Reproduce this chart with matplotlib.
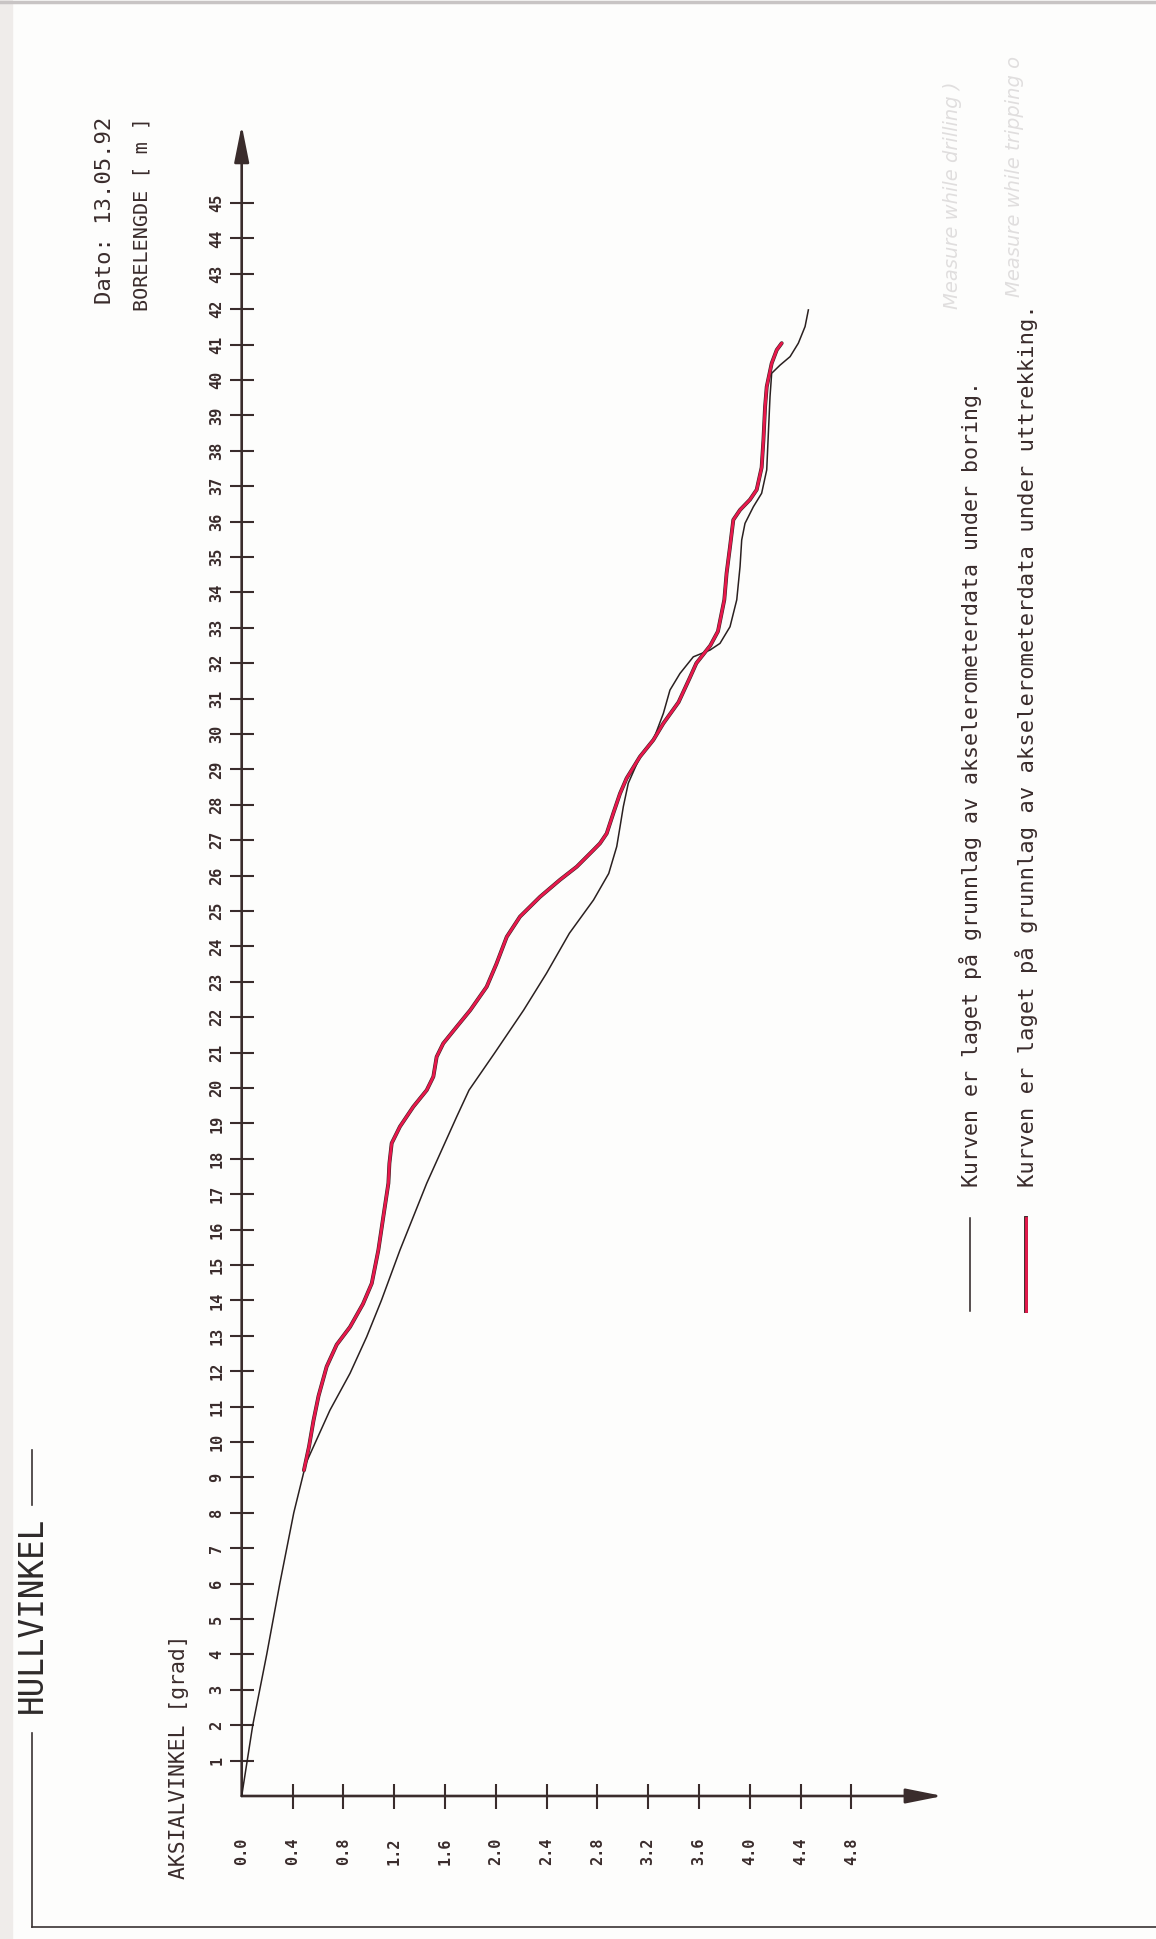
import matplotlib
matplotlib.use("Agg")
import matplotlib.pyplot as plt
from matplotlib.lines import Line2D
from matplotlib.patches import Rectangle

# borelengde [m] og aksialvinkel [grad]
dybde_boring = [0, 2, 4, 6, 8, 9.4, 10.9, 11.94, 12.97, 14.0, 15.42, 17.31, 19.19,
                19.94, 20.98, 22.2, 23.24, 24.37, 25.31, 26.06, 26.82, 27.38, 27.95,
                28.61, 29.36, 29.83, 30.58, 31.24, 31.71, 32.18, 32.37, 32.56, 33.03,
                33.79, 34.73, 35.48, 35.95, 36.42, 36.8, 37.46, 38.5, 39.53, 40.19,
                40.42, 40.66, 41.04, 41.51, 41.98]
vinkel_boring = [0, 0.087, 0.197, 0.30, 0.41, 0.506, 0.695, 0.853, 0.984, 1.10, 1.246,
                 1.457, 1.693, 1.79, 1.99, 2.22, 2.40, 2.58, 2.77, 2.89, 2.953,
                 2.979, 3.005, 3.044, 3.136, 3.241, 3.32, 3.372, 3.451, 3.556, 3.687,
                 3.766, 3.845, 3.898, 3.924, 3.937, 3.963, 4.029, 4.094, 4.134, 4.147,
                 4.16, 4.173, 4.239, 4.318, 4.383, 4.436, 4.462]

dybde_uttrekk = [9.2, 9.87, 10.6, 11.3, 12.13, 12.75, 13.25, 13.9, 14.48, 15.42, 16.36,
                 17.31, 17.87, 18.44, 18.91, 19.47, 19.94, 20.32, 20.88, 21.26, 21.73,
                 22.2, 22.86, 23.5, 24.27, 24.84, 25.4, 25.88, 26.25, 26.72, 26.91,
                 27.19, 27.76, 28.32, 28.75, 29.36, 29.83, 30.3, 30.9, 31.6, 32.0,
                 32.5, 32.9, 33.79, 34.54, 35.29, 35.67, 36.05, 36.33, 36.62, 36.9,
                 37.53, 38.3, 39.24, 39.81, 40.47, 40.85, 41.04]
vinkel_uttrekk = [0.49, 0.53, 0.565, 0.605, 0.669, 0.748, 0.853, 0.955, 1.024, 1.076,
                  1.115, 1.155, 1.163, 1.181, 1.246, 1.351, 1.457, 1.509, 1.535, 1.587,
                  1.693, 1.80, 1.929, 2.005, 2.087, 2.191, 2.349, 2.506, 2.638, 2.769,
                  2.821, 2.874, 2.926, 2.979, 3.031, 3.136, 3.241, 3.32, 3.44, 3.53,
                  3.58, 3.69, 3.75, 3.80, 3.818, 3.845, 3.858, 3.871, 3.924, 4.002,
                  4.055, 4.094, 4.108, 4.121, 4.134, 4.173, 4.213, 4.252]

x_ticks = [0.0, 0.4, 0.8, 1.2, 1.6, 2.0, 2.4, 2.8, 3.2, 3.6, 4.0, 4.4, 4.8]
y_ticks = list(range(1, 46))

W, H = 1156, 1939
akse = '#3a2c2c'
mono = ['DejaVu Sans Mono']

fig = plt.figure(figsize=(W / 100, H / 100), dpi=100)
fig.patch.set_facecolor('#fdfdfc')


def fx(px):
    return px / W


def fy(py):
    return 1 - py / H


# origo ligger i (241.7, 1796) px, 127 px per grad, 35.4 px per meter
x0, y0 = 241.7, 1796
ax = fig.add_axes([fx(x0), fy(y0), 5.0 * 127 / W, 48 * 35.4 / H])
ax.set_xlim(0, 5.0)
ax.set_ylim(0, 48)
ax.patch.set_alpha(0)
for s in ax.spines.values():
    s.set_visible(False)

pil = dict(arrowstyle='-|>,head_length=1.6,head_width=0.32', mutation_scale=14,
           lw=1.9, color=akse, shrinkA=0, shrinkB=0)
ax.annotate('', xy=(5.52, 0), xytext=(0, 0), arrowprops=pil, annotation_clip=False)
ax.annotate('', xy=(0, 47.2), xytext=(0, 0), arrowprops=pil, annotation_clip=False)

ax.set_xticks(x_ticks)
ax.set_xticklabels(['%.1f' % v for v in x_ticks], rotation=90, family=mono,
                   fontsize=11, fontweight='bold', color=akse)
ax.set_yticks(y_ticks)
ax.set_yticklabels([str(v) for v in y_ticks], rotation=90, family=mono,
                   fontsize=11, fontweight='bold', color=akse, va='center')
ax.tick_params(axis='x', direction='inout', length=18, width=1.5, color=akse, pad=21)
ax.tick_params(axis='y', direction='inout', length=17, width=1.5, color=akse, pad=4)
ax.xaxis.get_major_ticks()[0].tick1line.set_visible(False)

# kurvene
ax.plot(vinkel_boring, dybde_boring, color='#2a2020', lw=1.1, clip_on=False, zorder=3)
ax.plot(vinkel_uttrekk, dybde_uttrekk, color='#3a2525', lw=2.8, clip_on=False, zorder=4,
        solid_capstyle='round')
ax.plot(vinkel_uttrekk, dybde_uttrekk, color='#e8184c', lw=2.0, clip_on=False, zorder=5,
        solid_capstyle='round')

# tekster
fig.text(fx(105), fy(117), 'Dato: 13.05.92', rotation=90, ha='center', va='top',
         family=mono, fontsize=16, color=akse)
fig.text(fx(142), fy(117), 'BORELENGDE [ m ]', rotation=90, ha='center', va='top',
         family=mono, fontsize=14.5, color=akse)
fig.text(fx(179), fy(1879), 'AKSIALVINKEL [grad]', rotation=90, ha='center', va='bottom',
         family=mono, fontsize=15.4, color=akse)
fig.text(fx(32), fy(1713), 'HULLVINKEL', rotation=90, ha='center', va='bottom',
         family=mono, fontsize=23.5, color='#2e2a2a')

fig.text(fx(970), fy(1187),
         'Kurven er laget på grunnlag av akselerometerdata under boring.',
         rotation=90, ha='center', va='bottom', family=mono, fontsize=15.6, color=akse)
fig.text(fx(1026), fy(1187),
         'Kurven er laget på grunnlag av akselerometerdata under uttrekking.',
         rotation=90, ha='center', va='bottom', family=mono, fontsize=15.9, color=akse)

fig.add_artist(Line2D([fx(970), fx(970)], [fy(1218), fy(1311)], color='#2a2020', lw=1.1))
fig.add_artist(Line2D([fx(1026), fx(1026)], [fy(1218), fy(1311)], color='#3a2525', lw=2.8))
fig.add_artist(Line2D([fx(1026), fx(1026)], [fy(1218), fy(1311)], color='#e8184c', lw=2.0))

# blyantnotater
fig.text(fx(952), fy(309), 'Measure while drilling )', rotation=90, ha='center',
         va='bottom', fontsize=14, style='italic', color='#e0dede')
fig.text(fx(1014), fy(297), 'Measure while tripping o', rotation=90, ha='center',
         va='bottom', fontsize=14, style='italic', color='#e0dede')

# ramme
ramme = '#3a3333'
fig.add_artist(Line2D([fx(32), fx(32)], [fy(1450), fy(1505)], color=ramme, lw=1.2))
fig.add_artist(Line2D([fx(32), fx(32)], [fy(1733), fy(1927)], color=ramme, lw=1.2))
fig.add_artist(Line2D([fx(32), fx(1156)], [fy(1927), fy(1927)], color=ramme, lw=1.2))
fig.add_artist(Line2D([0, 1], [fy(1.5), fy(1.5)], color='#c8c4c4', lw=2.5))
fig.add_artist(Rectangle((0, 0), fx(12), 1, transform=fig.transFigure,
                         color='#efecea', zorder=0))

fig.savefig('out.png', dpi=100, facecolor=fig.get_facecolor())
